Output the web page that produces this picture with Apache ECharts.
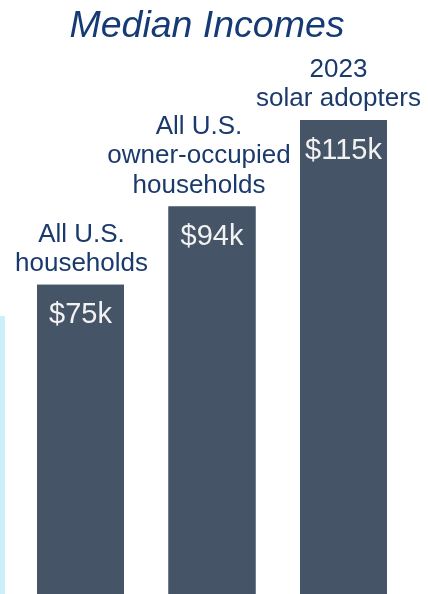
<!DOCTYPE html>
<html>
<head>
<meta charset="utf-8">
<script src="https://cdn.jsdelivr.net/npm/echarts@6/dist/echarts.min.js"></script>
<style>html,body{margin:0;padding:0;background:#fff;}#c{width:428px;height:594px;}</style>
</head>
<body>
<div id="c"></div>
<script>
var categories = ['All U.S.\nhouseholds', 'All U.S.\nowner-occupied\nhouseholds', '2023\nsolar adopters'];
var values = [75, 94, 115];
var valueLabels = ['$75k', '$94k', '$115k'];
var titleText = 'Median Incomes';

var chart = echarts.init(document.getElementById('c'), null, {renderer: 'canvas'});
var font = '"Liberation Sans", Arial, sans-serif';
var navy = '#1b3a6c';
var barColor = '#465468';
// horizontal nudges of the category captions (layout only)
var captionShift = [1, -13, -5];

chart.setOption({
  animation: false,
  title: {
    text: titleText,
    left: 202, textAlign: 'center', top: 3,
    textStyle: {fontFamily: font, fontSize: 37.5, fontStyle: 'italic', fontWeight: 'normal', color: '#163a75'}
  },
  grid: {left: 14.75, right: 18.75, top: 120, bottom: 0},
  xAxis: {
    type: 'category', data: categories,
    axisLine: {show: false}, axisTick: {show: false}, axisLabel: {show: false}
  },
  yAxis: {
    type: 'value', min: 0, max: 115,
    show: false, splitLine: {show: false}
  },
  graphic: [{
    type: 'rect', shape: {x: 0, y: 316, width: 5, height: 278},
    style: {fill: '#cdeefb'}
  }],
  series: [{
    type: 'bar', barWidth: 87,
    data: values.map(function (v, i) {
      return {value: v, label: {offset: [captionShift[i], 0]}};
    }),
    itemStyle: {color: barColor},
    label: {
      show: true, position: 'top', distance: 6,
      formatter: function (p) { return categories[p.dataIndex]; },
      fontFamily: font, fontSize: 26, lineHeight: 29.5, color: navy, align: 'center'
    }
  }, {
    type: 'bar', data: values, barWidth: 87, barGap: '-100%',
    itemStyle: {color: barColor},
    label: {
      show: true, position: 'insideTop', distance: 16,
      formatter: function (p) { return valueLabels[p.dataIndex]; },
      fontFamily: font, fontSize: 29, color: '#f2f2f2'
    }
  }]
});
</script>
</body>
</html>
